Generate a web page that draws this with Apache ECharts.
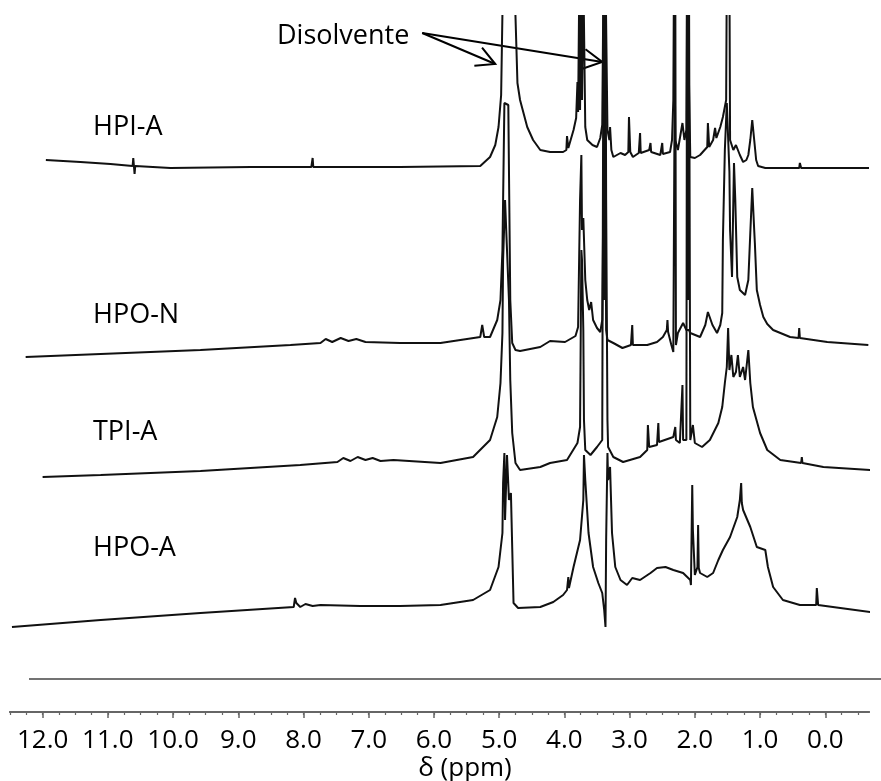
<!DOCTYPE html>
<html><head><meta charset="utf-8">
<script src="https://cdn.jsdelivr.net/npm/echarts@6/dist/echarts.min.js"></script>
<style>html,body{margin:0;padding:0;background:#fff}#c{width:881px;height:781px}</style>
</head><body><div id="c"></div>
<script>
// x: chemical shift (ppm), y: stacked intensity (arbitrary units, stacked offsets included)
const majorTicks = [12, 11, 10, 9, 8, 7, 6, 5, 4, 3, 2, 1, 0];
const axisName = 'δ (ppm)';
const traceNames = ['HPI-A', 'HPO-N', 'TPI-A', 'HPO-A'];
const solventLabel = 'Disolvente';

const hpiA = [[11.95,532],[11.42,530],[10.96,528],[10.62,526],[10.61,534],[10.59,518],[10.58,526],[10.04,524],[8.81,525],[7.88,525],[7.86,534],[7.85,525],[6.52,525],[5.29,526],[5.14,535],[5.06,547],[5.01,565],[4.97,597],[4.94,720],[4.77,720],[4.72,609],[4.68,592],[4.57,565],[4.48,552],[4.37,542],[4.22,540],[4.02,540],[3.97,542],[3.96,556],[3.94,544],[3.86,562],[3.82,574],[3.80,610],[3.79,580],[3.77,720],[3.76,582],[3.74,720],[3.73,592],[3.71,720],[3.68,565],[3.65,552],[3.57,547],[3.50,545],[3.45,554],[3.42,567],[3.40,720],[3.39,592],[3.37,720],[3.36,720],[3.34,562],[3.31,552],[3.30,565],[3.28,542],[3.25,535],[3.14,539],[3.07,537],[3.02,540],[3.01,575],[2.99,540],[2.95,535],[2.86,539],[2.84,559],[2.83,539],[2.70,542],[2.68,549],[2.67,540],[2.53,537],[2.50,549],[2.49,538],[2.38,540],[2.35,552],[2.33,592],[2.32,720],[2.30,552],[2.26,542],[2.19,569],[2.16,552],[2.13,562],[2.12,720],[2.10,720],[2.09,720],[2.07,535],[2.00,534],[1.92,537],[1.81,545],[1.80,569],[1.78,545],[1.72,552],[1.69,564],[1.67,554],[1.61,565],[1.57,575],[1.52,592],[1.51,720],[1.49,720],[1.47,720],[1.46,552],[1.41,542],[1.37,547],[1.35,549],[1.31,537],[1.26,530],[1.21,532],[1.18,537],[1.15,552],[1.12,572],[1.09,552],[1.06,532],[1.03,526],[0.92,524],[0.80,524],[0.40,524],[0.39,529],[0.37,524],[-0.07,524],[-0.67,524]];

const hpoN = [[12.26,335],[11.11,338],[9.58,342],[8.20,347],[7.74,349],[7.66,353],[7.56,350],[7.43,354],[7.31,351],[7.19,353],[7.05,350],[6.52,349],[5.90,349],[5.29,355],[5.26,367],[5.23,355],[5.14,355],[5.03,372],[4.98,392],[4.95,442],[4.92,589],[4.86,587],[4.83,392],[4.80,349],[4.75,342],[4.68,341],[4.37,345],[4.22,351],[3.99,350],[3.83,356],[3.79,365],[3.76,492],[3.74,537],[3.73,462],[3.71,474],[3.68,412],[3.65,392],[3.62,382],[3.59,390],[3.56,372],[3.50,364],[3.45,360],[3.42,372],[3.40,512],[3.39,392],[3.37,510],[3.36,362],[3.34,352],[3.25,349],[3.11,344],[2.98,347],[2.96,367],[2.95,347],[2.73,347],[2.58,350],[2.49,355],[2.43,362],[2.42,372],[2.41,360],[2.36,347],[2.33,340],[2.30,720],[2.29,347],[2.26,359],[2.18,369],[2.13,362],[2.09,362],[2.07,359],[1.92,355],[1.84,367],[1.80,380],[1.73,367],[1.66,359],[1.61,367],[1.58,379],[1.57,452],[1.54,542],[1.51,589],[1.47,520],[1.46,462],[1.43,415],[1.40,529],[1.38,492],[1.35,415],[1.31,402],[1.23,397],[1.18,412],[1.15,459],[1.12,504],[1.09,462],[1.08,449],[1.05,402],[1.00,387],[0.95,375],[0.89,368],[0.80,362],[0.54,355],[0.41,354],[0.40,364],[0.39,354],[-0.03,350],[-0.66,347]];

const tpiA = [[12.00,215],[11.11,217],[9.58,221],[8.05,227],[7.48,230],[7.39,234],[7.28,231],[7.17,235],[7.05,232],[6.94,234],[6.82,231],[6.62,232],[5.90,229],[5.40,235],[5.14,252],[5.03,275],[4.98,309],[4.95,359],[4.94,432],[4.91,492],[4.88,492],[4.85,392],[4.83,312],[4.80,259],[4.75,229],[4.68,222],[4.37,225],[4.22,229],[3.96,232],[3.80,249],[3.76,265],[3.74,442],[3.73,432],[3.71,362],[3.70,272],[3.68,242],[3.60,237],[3.50,245],[3.42,252],[3.40,720],[3.39,492],[3.37,720],[3.36,492],[3.34,272],[3.33,245],[3.25,235],[3.10,230],[2.84,235],[2.73,242],[2.72,267],[2.70,245],[2.58,247],[2.56,269],[2.55,250],[2.33,255],[2.30,265],[2.29,252],[2.23,249],[2.19,307],[2.18,252],[2.13,252],[2.12,720],[2.10,392],[2.09,720],[2.07,252],[2.03,267],[2.00,249],[1.89,245],[1.77,252],[1.64,269],[1.58,285],[1.54,309],[1.51,325],[1.49,364],[1.47,322],[1.44,337],[1.41,315],[1.37,320],[1.34,337],[1.31,315],[1.26,325],[1.23,312],[1.18,342],[1.15,309],[1.11,285],[1.00,259],[0.89,242],[0.69,232],[0.37,229],[0.36,235],[0.35,229],[0.03,225],[-0.69,222]];

const hpoA = [[12.47,65],[11.11,72],[9.58,79],[8.15,85],[8.13,94],[8.11,89],[8.05,85],[7.97,88],[7.86,86],[7.74,87],[7.13,86],[6.52,86],[5.90,87],[5.40,92],[5.14,102],[5.01,125],[4.95,159],[4.94,209],[4.92,239],[4.91,172],[4.88,237],[4.85,192],[4.82,199],[4.78,89],[4.71,84],[4.37,85],[4.17,90],[4.02,97],[3.96,102],[3.94,115],[3.93,104],[3.86,125],[3.76,152],[3.71,192],[3.70,237],[3.68,212],[3.63,159],[3.56,125],[3.48,109],[3.42,99],[3.39,82],[3.37,65],[3.36,152],[3.34,239],[3.33,212],[3.30,225],[3.27,159],[3.22,125],[3.14,112],[3.04,107],[2.96,114],[2.84,112],[2.68,119],[2.58,124],[2.45,125],[2.33,122],[2.18,119],[2.07,112],[2.06,107],[2.04,207],[2.03,162],[2.00,117],[1.96,125],[1.95,167],[1.94,124],[1.92,119],[1.81,115],[1.72,119],[1.64,132],[1.57,142],[1.46,155],[1.35,175],[1.31,192],[1.29,209],[1.28,189],[1.26,182],[1.15,165],[1.05,145],[0.92,142],[0.88,125],[0.80,105],[0.65,92],[0.39,87],[0.14,87],[0.13,104],[0.11,87],[-0.23,84],[-0.69,80]];

// annotation anchors (ppm, intensity)
const arrowStart = [6.18, 659];
const arrowTips = [[5.06, 628], [3.42, 630]];

const minorTicks = [];
for (let v = 12.5; v >= -0.5 - 1e-9; v -= 0.25) minorTicks.push(+v.toFixed(2));

const FONT = '"Open Sans", "Liberation Sans", sans-serif';
const chart = echarts.init(document.getElementById('c'), null, {renderer: 'canvas'});

const xMin = -0.67, xMax = 12.5;
const baseX = {
  type: 'value', inverse: true, min: xMin, max: xMax, position: 'bottom',
  splitLine: {show: false},
  axisLine: {show: true, onZero: false, lineStyle: {color: '#666', width: 2}}
};
function mkSeries(name, data) {
  return {
    name, type: 'line', data, showSymbol: false, symbol: 'none', clip: true,
    animation: false, sampling: null,
    lineStyle: {color: '#111', width: 2, join: 'bevel'}
  };
}
chart.setOption({
  animation: false,
  backgroundColor: '#fff',
  grid: {left: 10, right: 12, top: 16, bottom: 69},
  xAxis: [
    Object.assign({}, baseX, {
      axisTick: {show: true, customValues: majorTicks, length: 6, lineStyle: {color: '#666', width: 1.5}},
      axisLabel: {show: true, customValues: majorTicks, margin: 16, color: '#000', fontSize: 26, fontFamily: FONT,
        formatter: v => Number(v).toFixed(1)}
    }),
    Object.assign({}, baseX, {
      axisTick: {show: true, customValues: minorTicks, length: 3, lineStyle: {color: '#666', width: 1.2}},
      axisLabel: {show: false}
    })
  ],
  yAxis: {type: 'value', min: -20, max: 676, show: false},
  series: [mkSeries(traceNames[0], hpiA), mkSeries(traceNames[1], hpoN), mkSeries(traceNames[2], tpiA), mkSeries(traceNames[3], hpoA)]
});

const px = p => chart.convertToPixel({xAxisIndex: 0, yAxisIndex: 0}, p);
const s = px(arrowStart);
const graphics = [];
arrowTips.forEach(t => {
  const tp = px(t);
  graphics.push({type: 'line', shape: {x1: s[0], y1: s[1], x2: tp[0], y2: tp[1]}, style: {stroke: '#000', lineWidth: 2}});
  const dx = s[0] - tp[0], dy = s[1] - tp[1], L = Math.hypot(dx, dy);
  const ux = dx / L, uy = dy / L, a = 28 * Math.PI / 180, len = 21;
  const w1 = [tp[0] + len * (ux * Math.cos(a) - uy * Math.sin(a)), tp[1] + len * (ux * Math.sin(a) + uy * Math.cos(a))];
  const w2 = [tp[0] + len * (ux * Math.cos(-a) - uy * Math.sin(-a)), tp[1] + len * (ux * Math.sin(-a) + uy * Math.cos(-a))];
  graphics.push({type: 'polyline', shape: {points: [w1, tp, w2]}, style: {stroke: '#000', lineWidth: 2, fill: null}});
});
const lbl = (text, x, y, size, align) => ({type: 'text', x, y,
  style: {text, font: size + 'px ' + FONT, fill: '#000', align: align || 'left', verticalAlign: 'middle'}});
graphics.push(lbl(solventLabel, 277, 36, 27));
graphics.push(lbl(traceNames[0], 93, 127, 27));
graphics.push(lbl(traceNames[1], 93, 315, 27));
graphics.push(lbl(traceNames[2], 93, 432, 27));
graphics.push(lbl(traceNames[3], 93, 548, 27));
graphics.push(lbl(axisName, 465, 769, 26, 'center'));
graphics.push({type: 'line', shape: {x1: 29, y1: 679, x2: 881, y2: 679}, style: {stroke: '#444', lineWidth: 1.5}});
chart.setOption({graphic: graphics});
</script></body></html>
